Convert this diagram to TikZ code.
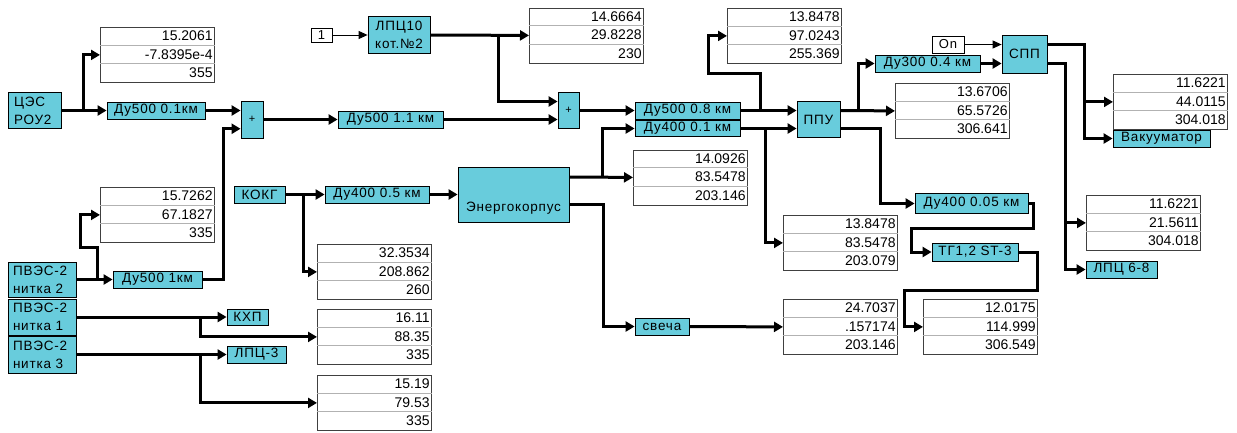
\documentclass[tikz,border=0pt]{standalone}
\usepackage{fontspec}
\setmainfont{Liberation Sans}
\newfontfamily\blkfont{Liberation Sans}[LetterSpace=6]
\usetikzlibrary{arrows.meta}

\definecolor{simcyan}{RGB}{104,204,220}

\tikzset{
  blk/.style={draw=black, fill=simcyan, line width=0.8pt, inner sep=1pt,
    font=\blkfont\fontsize{13.5}{18}\selectfont},
  srcblk/.style={blk, align=left, text width=58pt, inner xsep=5pt},
  cst/.style={draw=black, fill=white, line width=0.8pt, inner sep=1pt,
    font=\blkfont\fontsize{13}{14}\selectfont},
  meter/.style={draw=black!75, fill=white, line width=0.8pt,
    minimum width=114pt, minimum height=55pt, inner sep=0pt},
  meterrule/.style={draw=black!30, line width=0.8pt},
  meterval/.style={inner sep=2pt, font=\fontsize{14}{15}\selectfont,
    text height=9.5pt, text depth=0pt},
  wire/.style={line width=3pt, -{Triangle[length=9pt,width=10pt]}},
  thinwire/.style={line width=1pt, -{Triangle[length=9pt,width=8pt]}},
}

% display block: name, top left corner, three values
\newcommand\meterblk[5]{%
  \node[meter, anchor=north west] (#1) at (#2) {};
  \draw[meterrule] ([yshift=-18.33pt]#1.north west) -- ([yshift=-18.33pt]#1.north east);
  \draw[meterrule] ([yshift=-36.67pt]#1.north west) -- ([yshift=-36.67pt]#1.north east);
  \node[meterval, anchor=east] (#1-a) at ([yshift=-9.17pt]#1.north east) {#3};
  \node[meterval, anchor=east] (#1-b) at ([yshift=-27.5pt]#1.north east) {#4};
  \node[meterval, anchor=east] (#1-c) at ([yshift=-45.83pt]#1.north east) {#5};
}

\begin{document}
\begin{tikzpicture}[x=1pt, y=-1pt]
\useasboundingbox (0,0) rectangle (1237,432);

% sources
\node[srcblk, minimum width=53pt, minimum height=36pt, text width=41pt, inner xsep=6pt] (ces) at (34.5,110.5) {ЦЭС\\РОУ2};
\node[srcblk, minimum width=68pt, minimum height=35pt] (pv2) at (42,279.5) {ПВЭС-2\\нитка 2};
\node[srcblk, minimum width=68pt, minimum height=36pt] (pv1) at (42,317) {ПВЭС-2\\нитка 1};
\node[srcblk, minimum width=68pt, minimum height=37pt] (pv3) at (42,354.5) {ПВЭС-2\\нитка 3};
\node[cst, minimum width=21pt, minimum height=14pt] (one) at (321.5,35) {1};
\node[cst, minimum width=32pt, minimum height=17pt] (on) at (948,44.5) {On};

% blocks
\node[blk, minimum width=98pt, minimum height=17pt] (du1) at (156,110.5) {Ду500 0.1км};
\node[blk, minimum width=22pt, minimum height=37pt, font=\fontsize{11}{12}\selectfont] (sum1) at (252,119.5) {+};
\node[blk, minimum width=105pt, minimum height=17pt] (du2) at (390.5,119.5) {Ду500 1.1 км};
\node[blk, minimum width=62pt, minimum height=37pt, align=center] (lpc10) at (399,35) {ЛПЦ10\\кот.№2};
\node[blk, minimum width=21pt, minimum height=36pt, font=\fontsize{11}{12}\selectfont] (sum2) at (568.5,110.5) {+};
\node[blk, minimum width=105pt, minimum height=17pt] (du3) at (687.5,110.5) {Ду500 0.8 км};
\node[blk, minimum width=105pt, minimum height=16pt] (du4) at (687.5,128.5) {Ду400 0.1 км};
\node[blk, minimum width=43pt, minimum height=36pt] (ppu) at (818.5,119.5) {ППУ};
\node[blk, minimum width=105pt, minimum height=17pt] (du5) at (927.5,63.5) {Ду300 0.4 км};
\node[blk, minimum width=45pt, minimum height=38pt] (spp) at (1024.5,54) {СПП};
\node[blk, minimum width=97pt, minimum height=17pt] (vak) at (1161.5,138.5) {Вакууматор};
\node[blk, minimum width=71pt, minimum height=17pt] (lpc68) at (1121.5,269.5) {ЛПЦ 6-8};
\node[blk, minimum width=113pt, minimum height=20pt] (du6) at (971.5,203.5) {Ду400 0.05 км};
\node[blk, minimum width=86pt, minimum height=18pt] (tg) at (975,252) {ТГ1,2 ST-3};
\node[blk, minimum width=54pt, minimum height=17pt] (svecha) at (662,326.5) {свеча};
\node[blk, minimum width=111pt, minimum height=55pt] (energo) at (513.5,194.5) {\raisebox{-16.5pt}[0pt][0pt]{Энергокорпус}};
\node[blk, minimum width=51pt, minimum height=17pt] (kokg) at (259.5,194.5) {КОКГ};
\node[blk, minimum width=104pt, minimum height=17pt] (du7) at (377,194.5) {Ду400 0.5 км};
\node[blk, minimum width=89pt, minimum height=17pt] (du8) at (157.5,279.5) {Ду500 1км};
\node[blk, minimum width=41pt, minimum height=16pt] (kxp) at (247.5,317) {КХП};
\node[blk, minimum width=59pt, minimum height=17pt] (lpc3) at (256.5,354.5) {ЛПЦ-3};

% displays
\meterblk{d1}{100,27}{15.2061}{-7.8395e-4}{355}
\meterblk{d2}{529,7.5}{14.6664}{29.8228}{230}
\meterblk{d3}{727,8}{13.8478}{97.0243}{255.369}
\meterblk{d4}{895,83}{13.6706}{65.5726}{306.641}
\meterblk{d5}{1113,74}{11.6221}{44.0115}{304.018}
\meterblk{d6}{633,149.5}{14.0926}{83.5478}{203.146}
\meterblk{d7}{783,215}{13.8478}{83.5478}{203.079}
\meterblk{d8}{1086,195}{11.6221}{21.5611}{304.018}
\meterblk{d9}{783,299}{24.7037}{.157174}{203.146}
\meterblk{d10}{923,299}{12.0175}{114.999}{306.549}
\meterblk{d11}{100,187}{15.7262}{67.1827}{335}
\meterblk{d12}{317,244}{32.3534}{208.862}{260}
\meterblk{d13}{317,309}{16.11}{88.35}{335}
\meterblk{d14}{317,375}{15.19}{79.53}{335}

% wires
\draw[wire] (ces.east) -- (du1.west);
\draw[wire] ([xshift=22pt]ces.east) |- (d1.west);
\draw[wire] (du1.east) -- (du1.east -| sum1.west);
\draw[wire] (sum1.east) -- (du2.west);
\draw[wire] (du2.east) -- (du2.east -| sum2.west);
\draw[thinwire] (one.east) -- (lpc10.west);
\draw[wire] (lpc10.east) -- (d2.west);
\draw[wire] ([xshift=68pt]lpc10.east) |- ([yshift=9pt]sum2.west);
\draw[wire] (sum2.east) -- (du3.west);
\draw[wire] (du3.east) -- (du3.east -| ppu.west);
\draw[wire] ([xshift=20pt]du3.east) |- ++(-52,-37.5) |- (d3.west);
\draw[wire] (du4.east) -- (du4.east -| ppu.west);
\draw[wire] ([xshift=25pt]du4.east) |- (d7.west);
\draw[wire] ([yshift=9pt]ppu.east) -- (d4.west);
\draw[wire] ([yshift=9pt, xshift=18pt]ppu.east) |- (du5.west);
\draw[wire] ([yshift=-9pt]ppu.east) -- ++(40,0) |- (du6.west);
\draw[wire] (du5.east) -- (du5.east -| spp.west);
\draw[thinwire] (on.east) -- (on.east -| spp.west);
\draw[wire] ([yshift=9.5pt]spp.east) -- ++(37,0) |- (d5.west);
\draw[wire] ([yshift=9.5pt]spp.east) -- ++(37,0) |- (vak.west);
\draw[wire] ([yshift=-9.5pt]spp.east) -- ++(18,0) |- (d8.west);
\draw[wire] ([yshift=-9.5pt]spp.east) -- ++(18,0) |- (lpc68.west);
\draw[wire] (du6.east) -- ++(5,0) -- ++(0,24.5) -| ([xshift=-20pt]tg.west) -- (tg.west);
\draw[wire] (tg.east) -- ++(19,0) -- ++(0,38) -| ([xshift=-19pt]d10.west) -- (d10.west);
\draw[wire] (kokg.east) -- (du7.west);
\draw[wire] ([xshift=18pt]kokg.east) |- (d12.west);
\draw[wire] (du7.east) -- (energo.west);
\draw[wire] ([yshift=17.5pt]energo.east) -- (d6.west);
\draw[wire] ([yshift=17.5pt, xshift=33pt]energo.east) |- (du4.west);
\draw[wire] ([yshift=-9.5pt]energo.east) -- ++(34,0) |- (svecha.west);
\draw[wire] (svecha.east) -- (d9.west);
\draw[wire] (pv2.east) -- (du8.west);
\draw[wire] ([xshift=21pt]pv2.east) -- ++(0,-32.5) -| ([xshift=-20pt]d11.west) -- (d11.west);
\draw[wire] (du8.east) -- ++(21,0) |- ([yshift=-9.25pt]sum1.west);
\draw[wire] (pv1.east) -- (kxp.west);
\draw[wire] ([xshift=124pt]pv1.east) |- (d13.west);
\draw[wire] (pv3.east) -- (lpc3.west);
\draw[wire] ([xshift=124pt]pv3.east) |- (d14.west);
\end{tikzpicture}
\end{document}
